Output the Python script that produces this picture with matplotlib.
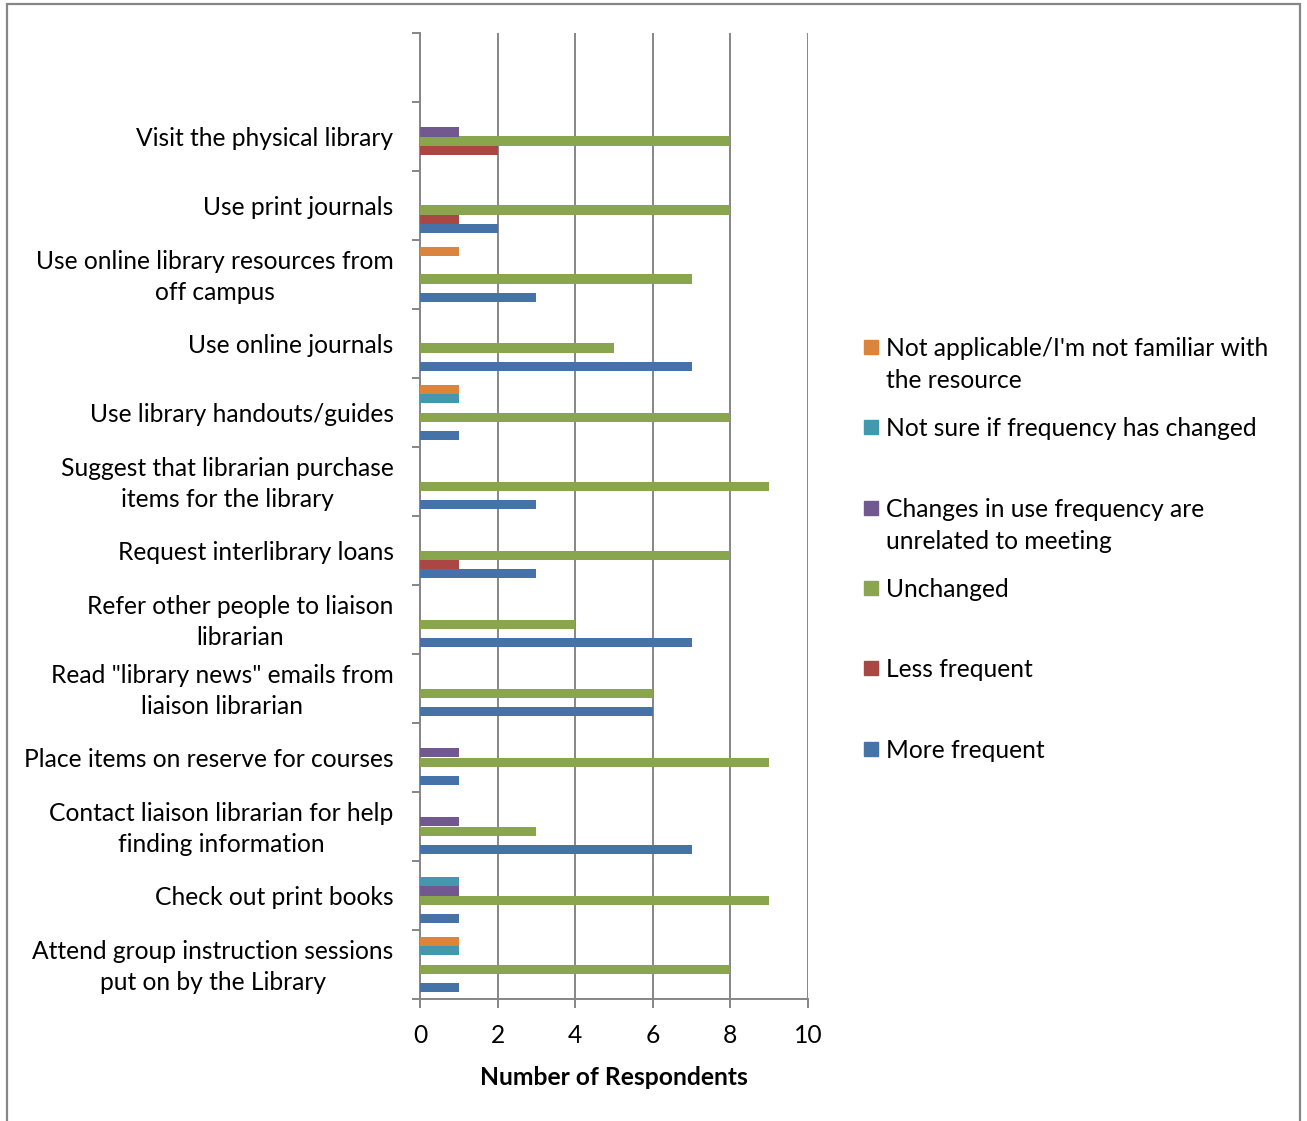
import numpy as np
import matplotlib.pyplot as plt
from matplotlib.patches import Rectangle
from matplotlib.transforms import ScaledTranslation

plt.rcParams['font.family'] = ['Lato', 'DejaVu Sans']

# categories listed top to bottom as they appear (top slot is empty)
categories = ['',
              'Visit the physical library',
              'Use print journals',
              'Use online library resources from\noff campus',
              'Use online journals',
              'Use library handouts/guides',
              'Suggest that librarian purchase\nitems for the library',
              'Request interlibrary loans',
              'Refer other people to liaison\nlibrarian',
              'Read "library news" emails from\nliaison librarian',
              'Place items on reserve for courses',
              'Contact liaison librarian for help\nfinding information',
              'Check out print books',
              'Attend group instruction sessions\nput on by the Library']

more_frequent  = [0, 0, 2, 3, 7, 1, 3, 3, 7, 6, 1, 7, 1, 1]
less_frequent  = [0, 2, 1, 0, 0, 0, 0, 1, 0, 0, 0, 0, 0, 0]
unchanged      = [0, 8, 8, 7, 5, 8, 9, 8, 4, 6, 9, 3, 9, 8]
unrelated      = [0, 1, 0, 0, 0, 0, 0, 0, 0, 0, 1, 1, 1, 0]
not_sure       = [0, 0, 0, 0, 0, 1, 0, 0, 0, 0, 0, 0, 1, 1]
not_applicable = [0, 0, 0, 1, 0, 1, 0, 0, 0, 0, 0, 0, 0, 1]

series = [more_frequent, less_frequent, unchanged, unrelated, not_sure, not_applicable]
names = ['More frequent', 'Less frequent', 'Unchanged',
         'Changes in use frequency are\nunrelated to meeting',
         'Not sure if frequency has changed',
         "Not applicable/I'm not familiar with\nthe resource"]
colors = ['#4572A7', '#AA4643', '#89A54E', '#71588F', '#4198AF', '#DB843D']

grey = '#868686'
fs = 17.7
ls = 1.45

fig = plt.figure(figsize=(13.07, 11.21), dpi=100)
W, H = 1307, 1121
ax = fig.add_axes([420 / W, 1 - 999 / H, 388 / W, 966 / H])

n = len(categories)
y = np.arange(n)[::-1]   # first listed at top
group = 0.8
h = group / len(series)
for i, (vals, col) in enumerate(zip(series, colors)):
    ax.barh(y - group / 2 + h * (i + 0.5), vals, height=h, color=col, linewidth=0, zorder=3)

ax.set_xlim(0, 10)
ax.set_ylim(-0.5, n - 0.5)
ax.set_xticks(range(0, 11, 2))
ax.set_yticks(y)
ax.set_yticklabels(categories, fontsize=fs, linespacing=ls)
ax.set_yticks(np.arange(-0.5, n, 1), minor=True)
ax.tick_params(axis='y', which='major', length=0, pad=19)
ax.tick_params(axis='y', which='minor', length=5.5, width=1.4, color=grey, direction='out')
ax.tick_params(axis='x', length=6.5, width=1.4, color=grey, labelsize=fs, pad=11.5)
# two-line labels sit a little higher, centred on their text lines
lift = ScaledTranslation(0, 2.6 / 72, fig.dpi_scale_trans)
for lbl in ax.get_yticklabels():
    lbl.set_multialignment('center')
    if '\n' in lbl.get_text():
        lbl.set_transform(lbl.get_transform() + lift)
ax.grid(axis='x', color=grey, linewidth=1.4, zorder=0)
for s in ['top', 'right']:
    ax.spines[s].set_visible(False)
for s in ['left', 'bottom']:
    ax.spines[s].set_color(grey)
    ax.spines[s].set_linewidth(1.4)
ax.set_xlabel('Number of Respondents', fontsize=fs, fontweight='bold', labelpad=13.5)

# legend drawn in pixel layout like the original
leg_y = [749, 668, 588, 508, 427, 347]
for name, col, ly in zip(names, colors, leg_y):
    fig.patches.append(Rectangle((864 / W, 1 - (ly + 7) / H), 14 / W, 14 / H,
                                 transform=fig.transFigure, color=col))
    fig.text(886 / W, 1 - (ly - 10) / H, name, fontsize=fs, va='top', ha='left',
             linespacing=ls)

# outer chart border
fig.patches.append(Rectangle((7 / W, -0.1), 1292.5 / W, 1.1 - 4.5 / H,
                             transform=fig.transFigure, fill=False,
                             edgecolor=grey, linewidth=1.6))

fig.savefig('out.png', dpi=100)
